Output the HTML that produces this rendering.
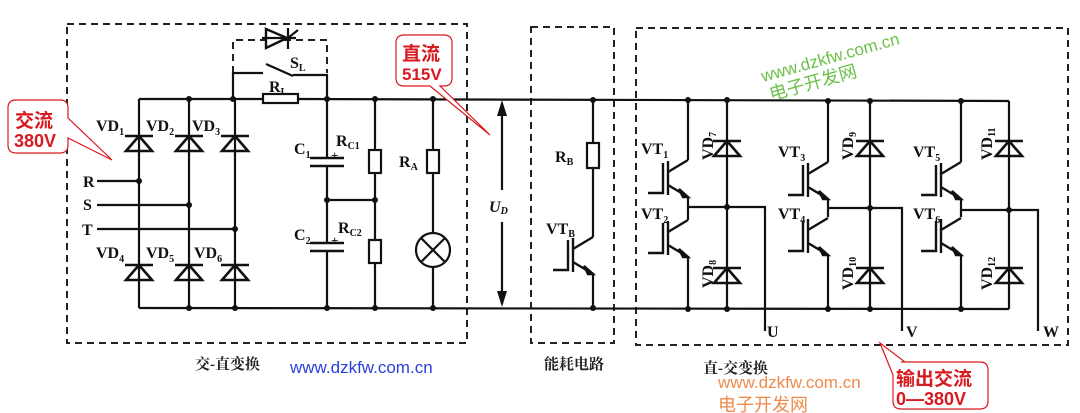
<!DOCTYPE html>
<html><head><meta charset="utf-8"><style>
html,body{margin:0;padding:0;background:#fff;}
svg{display:block;}
.t{font-family:"Liberation Serif",serif;font-weight:bold;font-size:16px;fill:#111;}
.s{font-size:10px;}
.cn{font-family:"Liberation Serif","Noto Serif CJK SC",serif;font-weight:bold;font-size:15px;fill:#222;}
.red{font-family:"Liberation Sans","Noto Sans CJK SC",sans-serif;font-weight:bold;fill:#d8191f;}
</style></head><body>
<svg width="1080" height="413" viewBox="0 0 1080 413" xmlns="http://www.w3.org/2000/svg">
<defs>
<g id="d"><polygon points="-13,8 13,8 0,-7" fill="none" stroke="#111" stroke-width="2.6"/><line x1="-14" y1="-7" x2="14" y2="-7" stroke="#111" stroke-width="2.6"/></g>
<g id="q" stroke="#111" stroke-width="2.4" fill="none">
<polyline points="-40,15 -25,15 -25,-15"/>
<line x1="-20" y1="-17" x2="-20" y2="17"/>
<polyline points="-20,-6 0,-18"/>
<polyline points="-20,7 0,19"/>
<polygon points="0,19 -9,11 -5,19" fill="#111"/>
</g>
<circle id="o" r="3" fill="#111"/>
</defs>
<g stroke="#222" stroke-width="2" fill="none" stroke-dasharray="7,5">
<rect x="67" y="24" width="400" height="319"/>
<polyline points="233,73 233,40 327,40 327,73"/>
<rect x="531" y="27" width="83" height="316"/>
<rect x="636" y="28" width="432" height="317"/>
</g>
<g stroke="#111" stroke-width="2.2" fill="none">
<line x1="139" y1="99" x2="263" y2="99"/><line x1="298" y1="99" x2="1009" y2="101"/>
<line x1="139" y1="308" x2="1009" y2="309"/>
<line x1="1009" y1="101" x2="1009" y2="309"/>
<line x1="139" y1="99" x2="139" y2="308"/><line x1="189" y1="99" x2="189" y2="308"/><line x1="235" y1="99" x2="235" y2="308"/>
<line x1="97" y1="181" x2="139" y2="181"/><line x1="97" y1="205" x2="189" y2="205"/><line x1="97" y1="229" x2="235" y2="229"/>
<rect x="263" y="94" width="35" height="9" fill="#fff"/>
<polyline points="233,99 233,73 263,73"/><line x1="266" y1="64" x2="293" y2="76"/><polyline points="293,75 327,75 327,99"/>
<polygon points="266,29 266,48 287,38" fill="#fff" stroke-width="2.4"/><line x1="288" y1="28" x2="288" y2="49"/><line x1="262" y1="38" x2="296" y2="38"/><line x1="288" y1="38" x2="298" y2="30"/>
<line x1="327" y1="99" x2="327" y2="158"/><line x1="327" y1="166" x2="327" y2="243"/><line x1="327" y1="251" x2="327" y2="308"/>
<line x1="310" y1="158" x2="344" y2="158" stroke-width="2.6"/><line x1="310" y1="166" x2="344" y2="166" stroke-width="2.6"/>
<line x1="310" y1="243" x2="344" y2="243" stroke-width="2.6"/><line x1="310" y1="251" x2="344" y2="251" stroke-width="2.6"/>
<line x1="327" y1="200" x2="375" y2="200"/>
<line x1="375" y1="99" x2="375" y2="308"/><rect x="369" y="150" width="12" height="23" fill="#fff"/><rect x="369" y="240" width="12" height="23" fill="#fff"/>
<line x1="433" y1="99" x2="433" y2="308"/><rect x="427" y="150" width="12" height="23" fill="#fff"/>
<circle cx="433" cy="250" r="17" fill="#fff"/><line x1="421" y1="238" x2="445" y2="262"/><line x1="445" y1="238" x2="421" y2="262"/>
<line x1="502" y1="104" x2="502" y2="190"/><line x1="502" y1="222" x2="502" y2="304"/>
<line x1="593" y1="99" x2="593" y2="237"/><rect x="587" y="143" width="12" height="25" fill="#fff"/>
<line x1="593" y1="273" x2="593" y2="308"/>
<line x1="688" y1="100" x2="688" y2="160"/><line x1="688" y1="197" x2="688" y2="220"/><line x1="688" y1="256" x2="688" y2="309"/>
<line x1="828" y1="101" x2="828" y2="162"/><line x1="828" y1="199" x2="828" y2="217"/><line x1="828" y1="254" x2="828" y2="309"/>
<line x1="961" y1="101" x2="961" y2="162"/><line x1="961" y1="199" x2="961" y2="217"/><line x1="961" y1="254" x2="961" y2="309"/>
<line x1="727" y1="100" x2="727" y2="309"/><line x1="870" y1="101" x2="870" y2="309"/>
<polyline points="688,207 765,207 765,331"/><polyline points="828,208 902,208 902,331"/><polyline points="961,210 1038,210 1038,331"/>
</g>
<polygon points="502,100 497,116 507,116" fill="#111"/><polygon points="502,307 497,291 507,291" fill="#111"/>
<g>
<use href="#d" x="139" y="143"/><use href="#d" x="189" y="143"/><use href="#d" x="235" y="143"/>
<use href="#d" x="139" y="272"/><use href="#d" x="189" y="272"/><use href="#d" x="235" y="272"/>
<use href="#d" x="727" y="148"/><use href="#d" x="727" y="275"/>
<use href="#d" x="870" y="148"/><use href="#d" x="870" y="275"/>
<use href="#d" x="1009" y="148"/><use href="#d" x="1009" y="275"/>
<use href="#q" x="688" y="178"/><use href="#q" x="688" y="238"/>
<use href="#q" x="828" y="180"/><use href="#q" x="828" y="236"/>
<use href="#q" x="961" y="180"/><use href="#q" x="961" y="236"/>
<use href="#q" x="593" y="255"/>
</g>
<g>
<use href="#o" x="139" y="181"/><use href="#o" x="189" y="205"/><use href="#o" x="235" y="229"/>
<use href="#o" x="189" y="99"/><use href="#o" x="233" y="99"/><use href="#o" x="327" y="99"/><use href="#o" x="375" y="99"/><use href="#o" x="433" y="99"/>
<use href="#o" x="189" y="308"/><use href="#o" x="235" y="308"/><use href="#o" x="327" y="308"/><use href="#o" x="375" y="308"/><use href="#o" x="433" y="308"/>
<use href="#o" x="327" y="200"/><use href="#o" x="375" y="200"/>
<use href="#o" x="593" y="100"/><use href="#o" x="593" y="308"/>
<use href="#o" x="688" y="100"/><use href="#o" x="727" y="100"/><use href="#o" x="828" y="101"/><use href="#o" x="870" y="101"/><use href="#o" x="961" y="101"/>
<use href="#o" x="688" y="309"/><use href="#o" x="727" y="309"/><use href="#o" x="828" y="309"/><use href="#o" x="870" y="309"/><use href="#o" x="961" y="309"/>
<use href="#o" x="727" y="207"/><use href="#o" x="870" y="208"/><use href="#o" x="1009" y="210"/>
</g>
<g class="t">
<text x="96" y="131">VD<tspan class="s" dy="4">1</tspan></text>
<text x="146" y="131">VD<tspan class="s" dy="4">2</tspan></text>
<text x="192" y="131">VD<tspan class="s" dy="4">3</tspan></text>
<text x="96" y="258">VD<tspan class="s" dy="4">4</tspan></text>
<text x="146" y="258">VD<tspan class="s" dy="4">5</tspan></text>
<text x="194" y="258">VD<tspan class="s" dy="4">6</tspan></text>
<text x="83" y="187">R</text><text x="83" y="210">S</text><text x="82" y="235">T</text>
<text x="294" y="154">C<tspan class="s" dy="4">1</tspan></text>
<text x="294" y="240">C<tspan class="s" dy="4">2</tspan></text>
<text x="336" y="146">R<tspan class="s" dy="3">C1</tspan></text>
<text x="338" y="233">R<tspan class="s" dy="3">C2</tspan></text>
<text x="399" y="167">R<tspan class="s" dy="3">A</tspan></text>
<text x="269" y="92">R<tspan class="s" dy="3">L</tspan></text>
<text x="290" y="68">S<tspan class="s" dy="3">L</tspan></text>
<text x="331" y="160" font-size="13">+</text><text x="331" y="245" font-size="13">+</text>
<text x="489" y="212" font-style="italic">U<tspan class="s" dy="2">D</tspan></text>
<text x="555" y="162">R<tspan class="s" dy="3">B</tspan></text>
<text x="546" y="234">VT<tspan class="s" dy="3">B</tspan></text>
<text x="641" y="154">VT<tspan class="s" dy="4">1</tspan></text>
<text x="641" y="219">VT<tspan class="s" dy="4">2</tspan></text>
<text x="778" y="157">VT<tspan class="s" dy="4">3</tspan></text>
<text x="778" y="219">VT<tspan class="s" dy="4">4</tspan></text>
<text x="913" y="157">VT<tspan class="s" dy="4">5</tspan></text>
<text x="913" y="219">VT<tspan class="s" dy="4">6</tspan></text>
<text transform="translate(713,160) rotate(-90)">VD<tspan class="s" dy="3">7</tspan></text>
<text transform="translate(713,288) rotate(-90)">VD<tspan class="s" dy="3">8</tspan></text>
<text transform="translate(853,160) rotate(-90)">VD<tspan class="s" dy="3">9</tspan></text>
<text transform="translate(853,290) rotate(-90)">VD<tspan class="s" dy="3">10</tspan></text>
<text transform="translate(992,160) rotate(-90)">VD<tspan class="s" dy="3">11</tspan></text>
<text transform="translate(992,290) rotate(-90)">VD<tspan class="s" dy="3">12</tspan></text>
<text x="767" y="337">U</text><text x="906" y="337">V</text><text x="1043" y="337">W</text>
</g>
<text class="cn" x="195" y="369">交-直变换</text>
<text class="cn" x="544" y="369">能耗电路</text>
<text class="cn" x="703" y="373">直-交变换</text>
<g fill="#fff" stroke="#d8191f" stroke-width="1.2">
<path d="M16,100 H60 Q68,100 68,108 V118 L112,160 L68,138 V145 Q68,153 60,153 H16 Q8,153 8,145 V108 Q8,100 16,100 Z"/>
<path d="M404,35 H444 Q452,35 452,43 V78 Q452,86 444,86 H440 L490,135 L430,86 H404 Q396,86 396,78 V43 Q396,35 404,35 Z"/>
<path d="M901,362 H980 Q988,362 988,370 V401 Q988,409 980,409 H901 Q893,409 893,401 V375 L880,343 L905,362 Z"/>
</g>
<text class="red" x="15" y="127" font-size="19">交流</text>
<text class="red" x="14" y="147" font-size="18">380V</text>
<text class="red" x="402" y="60" font-size="19">直流</text>
<text class="red" x="402" y="80" font-size="17">515V</text>
<text class="red" x="896" y="385" font-size="19">输出交流</text>
<text class="red" x="896" y="405" font-size="18">0—380V</text>
<text x="290" y="373" font-family="Liberation Sans,sans-serif" font-size="17" fill="#2a3fe0">www.dzkfw.com.cn</text>
<text x="718" y="388" font-family="Liberation Sans,sans-serif" font-size="17" fill="#f08a4b">www.dzkfw.com.cn</text>
<text x="718" y="411" font-family="Liberation Sans,'Noto Sans CJK SC',sans-serif" font-size="18" fill="#f08a4b">电子开发网</text>
<g transform="translate(763,82) rotate(-15.5)" font-family="Liberation Sans,'Noto Sans CJK SC',sans-serif" fill="#6cc04a">
<text x="0" y="0" font-size="17">www.dzkfw.com.cn</text>
<text x="3" y="20" font-size="18">电子开发网</text>
</g>
</svg>
</body></html>
